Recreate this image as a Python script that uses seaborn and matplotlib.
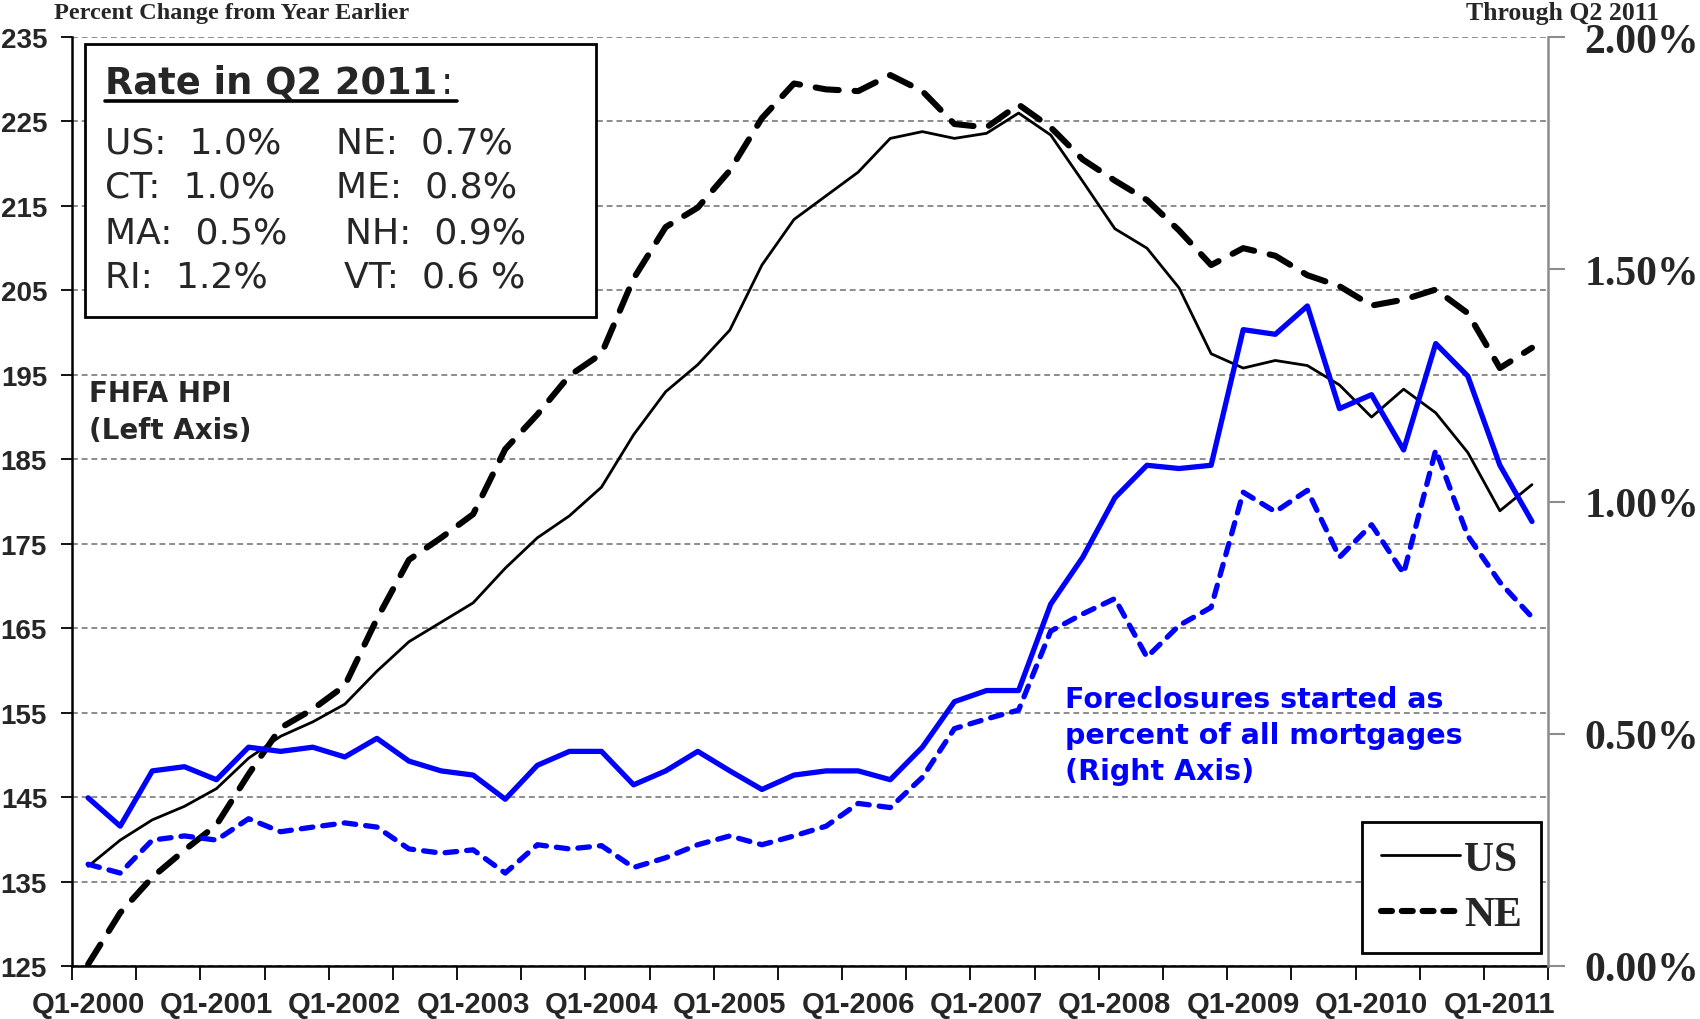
import numpy as np
import pandas as pd
import matplotlib
matplotlib.use('Agg')
import matplotlib.pyplot as plt
from matplotlib.lines import Line2D
from matplotlib.patches import Rectangle
import seaborn as sns

# quarters Q1-2000 .. Q2-2011
quarters = [f'Q{q}-{y}' for y in range(2000, 2012) for q in range(1, 5)][:46]
xtick_labels = ['Q1-2000', 'Q1-2001', 'Q1-2002', 'Q1-2003', 'Q1-2004', 'Q1-2005',
                'Q1-2006', 'Q1-2007', 'Q1-2008', 'Q1-2009', 'Q1-2010', 'Q1-2011']

# FHFA HPI (left axis)
us_hpi = [136.8, 139.9, 142.3, 143.9, 146.0, 149.6, 152.2, 153.9, 156.0, 159.9,
          163.4, 165.7, 168.0, 172.1, 175.7, 178.3, 181.7, 187.9, 193.0, 196.2,
          200.3, 208.0, 213.4, 216.2, 219.0, 223.0, 223.8, 223.0, 223.6, 226.0,
          223.4, 217.9, 212.3, 210.0, 205.3, 197.5, 195.8, 196.7, 196.1, 193.8,
          190.0, 193.3, 190.5, 185.8, 178.9, 182.0]
ne_hpi = [125.2, 131.3, 135.5, 138.7, 141.7, 147.7, 153.2, 155.4, 158.2, 166.1,
          173.1, 175.7, 178.5, 186.2, 190.3, 194.9, 197.5, 206.4, 212.5, 214.8,
          219.2, 225.4, 229.5, 228.8, 228.6, 230.5, 228.6, 224.7, 224.3, 227.0,
          224.3, 220.5, 218.0, 215.7, 212.1, 208.0, 210.0, 209.1, 206.8, 205.5,
          203.2, 203.9, 205.1, 202.3, 195.8, 198.2]

# foreclosures started, % of all mortgages (right axis)
us_fc = [0.362, 0.301, 0.420, 0.429, 0.401, 0.471, 0.462, 0.471, 0.450, 0.490,
         0.441, 0.420, 0.411, 0.359, 0.432, 0.462, 0.462, 0.390, 0.420, 0.462,
         0.420, 0.380, 0.411, 0.420, 0.420, 0.401, 0.471, 0.569, 0.593, 0.593,
         0.779, 0.880, 1.008, 1.078, 1.071, 1.078, 1.370, 1.360, 1.421, 1.200,
         1.230, 1.111, 1.340, 1.270, 1.078, 0.957]
ne_fc = [0.219, 0.200, 0.271, 0.280, 0.271, 0.317, 0.289, 0.299, 0.308, 0.299,
         0.252, 0.243, 0.250, 0.200, 0.261, 0.252, 0.259, 0.212, 0.233, 0.261,
         0.280, 0.261, 0.280, 0.301, 0.350, 0.341, 0.406, 0.511, 0.532, 0.551,
         0.721, 0.758, 0.791, 0.665, 0.733, 0.772, 1.020, 0.978, 1.024, 0.880,
         0.950, 0.845, 1.111, 0.926, 0.826, 0.751]

box_rows = [('US:  1.0%', 'NE:  0.7%'), ('CT:  1.0%', 'ME:  0.8%'),
            ('MA:  0.5%', 'NH:  0.9%'), ('RI:  1.2%', 'VT:  0.6 %')]

df = pd.DataFrame({'quarter': quarters, 'pos': np.arange(len(quarters)),
                   'us_hpi': us_hpi, 'ne_hpi': ne_hpi, 'us_fc': us_fc, 'ne_fc': ne_fc})

sns.set_style('white')
plt.rcParams['font.family'] = ['DejaVu Sans']
BLUE = '#0000FF'
GRID = '#8c8c8c'
NARROW = ['Liberation Sans Narrow', 'Liberation Sans', 'DejaVu Sans']
SERIF = ['Liberation Serif', 'DejaVu Serif']

fig = plt.figure(figsize=(17, 10.2), dpi=100)
ax = fig.add_axes([0.0424, 0.052, 0.8682, 0.9107])
ax2 = ax.twinx()

# left axis: HPI
sns.lineplot(data=df, x='pos', y='us_hpi', ax=ax, color='black', lw=2.0)
sns.lineplot(data=df, x='pos', y='ne_hpi', ax=ax, color='black', lw=4.4,
             linestyle=(0, (3.8, 2.6)), dash_capstyle='round')
# right axis: foreclosures
sns.lineplot(data=df, x='pos', y='us_fc', ax=ax2, color=BLUE, lw=3.8)
sns.lineplot(data=df, x='pos', y='ne_fc', ax=ax2, color=BLUE, lw=3.8,
             linestyle=(0, (2.2, 1.9)), dash_capstyle='round')

ax.set_xlim(-0.5, len(quarters) - 0.5)
ax.set_ylim(125, 235)
ax2.set_ylim(0, 2)
ax.set_xlabel('')
ax.set_ylabel('')
ax2.set_ylabel('')

# x ticks: labels at Q1, marks at category boundaries every 2 quarters
ax.set_xticks(np.arange(0, len(quarters), 4))
ax.set_xticklabels(xtick_labels)
ax.set_xticks(np.arange(-0.5, len(quarters), 2), minor=True)
ax.tick_params(axis='x', which='major', length=0, pad=17, labelsize=21,
               labelfontfamily=NARROW)
for lbl in ax.get_xticklabels():
    lbl.set_fontweight('bold')
ax.tick_params(axis='x', which='minor', length=10, width=1.3, color='black',
               direction='out', bottom=True)

ax.set_yticks(np.arange(125, 236, 10))
ax.tick_params(axis='y', length=8, width=1.3, color='black', direction='out',
               left=True, pad=10, labelsize=20, labelfontfamily=NARROW)
for lbl in ax.get_yticklabels():
    lbl.set_fontweight('bold')
ax.yaxis.grid(True, linestyle=(0, (3, 2)), color=GRID, lw=1.4)
ax.xaxis.grid(False)

ax2.set_yticks([0, 0.5, 1.0, 1.5, 2.0])
ax2.set_yticklabels([f'{v:.2f}%' for v in [0, 0.5, 1.0, 1.5, 2.0]])
ax2.tick_params(axis='y', length=12, width=1.5, color=GRID, direction='out',
                right=True, pad=14, labelsize=30, labelfontfamily=SERIF)
for lbl in ax2.get_yticklabels():
    lbl.set_fontweight('bold')
ax2.grid(False)

for a in (ax, ax2):
    a.spines['top'].set_visible(False)
ax.spines['left'].set_color('black')
ax.spines['left'].set_linewidth(1.8)
ax.spines['bottom'].set_color('black')
ax.spines['bottom'].set_linewidth(1.8)
ax.spines['right'].set_visible(False)
ax2.spines['left'].set_visible(False)
ax2.spines['bottom'].set_visible(False)
ax2.spines['right'].set_color(GRID)
ax2.spines['right'].set_linewidth(1.8)

# rate box
ax2.add_patch(Rectangle((0.0088, 0.699), 0.346, 0.293, transform=ax2.transAxes,
                        facecolor='white', edgecolor='black', lw=2, zorder=10))
title = ax2.text(0.0224, 0.94, 'Rate in Q2 2011', transform=ax2.transAxes,
                 fontsize=26.5, fontweight='bold', va='baseline', zorder=11)
fig.canvas.draw()
renderer = fig.canvas.get_renderer()
bb = title.get_window_extent(renderer)
inv = ax2.transAxes.inverted()
x_end, _ = inv.transform((bb.x1, bb.y0))
x_start, _ = inv.transform((bb.x0, bb.y0))
colon = ax2.text(x_end + 0.002, 0.94, ':', transform=ax2.transAxes, fontsize=26.5,
                 va='baseline', zorder=11)
bb2 = colon.get_window_extent(renderer)
x_end2, _ = inv.transform((bb2.x1, bb2.y0))
ax2.add_line(Line2D([x_start, x_end2 + 0.003], [0.9315, 0.9315], transform=ax2.transAxes,
                    color='black', lw=2.6, zorder=11))

row_y = [0.886, 0.839, 0.790, 0.742]
col2_x = [0.179, 0.179, 0.185, 0.184]
for (c1, c2), yy, x2 in zip(box_rows, row_y, col2_x):
    ax2.text(0.0224, yy, c1, transform=ax2.transAxes, fontsize=26, va='center', zorder=11)
    ax2.text(x2, yy, c2, transform=ax2.transAxes, fontsize=26, va='center', zorder=11)

ax2.text(0.0115, 0.632, 'FHFA HPI\n(Left Axis)', transform=ax2.transAxes, fontsize=20,
         fontweight='bold', va='top', linespacing=1.4, zorder=11)
ax2.text(0.673, 0.302, 'Foreclosures started as\npercent of all mortgages\n(Right Axis)',
         transform=ax2.transAxes, fontsize=20.5, color=BLUE, fontweight='bold',
         va='top', linespacing=1.35, zorder=11)

handles = [Line2D([], [], color='black', lw=2.0),
           Line2D([], [], color='black', lw=4.4, linestyle=(0, (1.8, 1.6)),
                  dash_capstyle='round')]
leg = ax2.legend(handles, ['US', 'NE'], loc='lower right', bbox_to_anchor=(0.995, 0.014),
                 prop={'family': SERIF, 'weight': 'bold', 'size': 30},
                 frameon=True, fancybox=False, framealpha=1, edgecolor='black',
                 handlelength=1.9, handletextpad=0.1, labelspacing=0.42,
                 borderpad=0.45, borderaxespad=0)
leg.get_frame().set_linewidth(2)
leg.set_zorder(12)

fig.text(0.032, 0.987, 'Percent Change from Year Earlier', fontsize=17.5, fontweight='bold',
         family=SERIF, va='center', ha='left')
fig.text(0.976, 0.987, 'Through Q2 2011', fontsize=18.5, fontweight='bold',
         family=SERIF, va='center', ha='right')

fig.savefig('out.png', dpi=100)
